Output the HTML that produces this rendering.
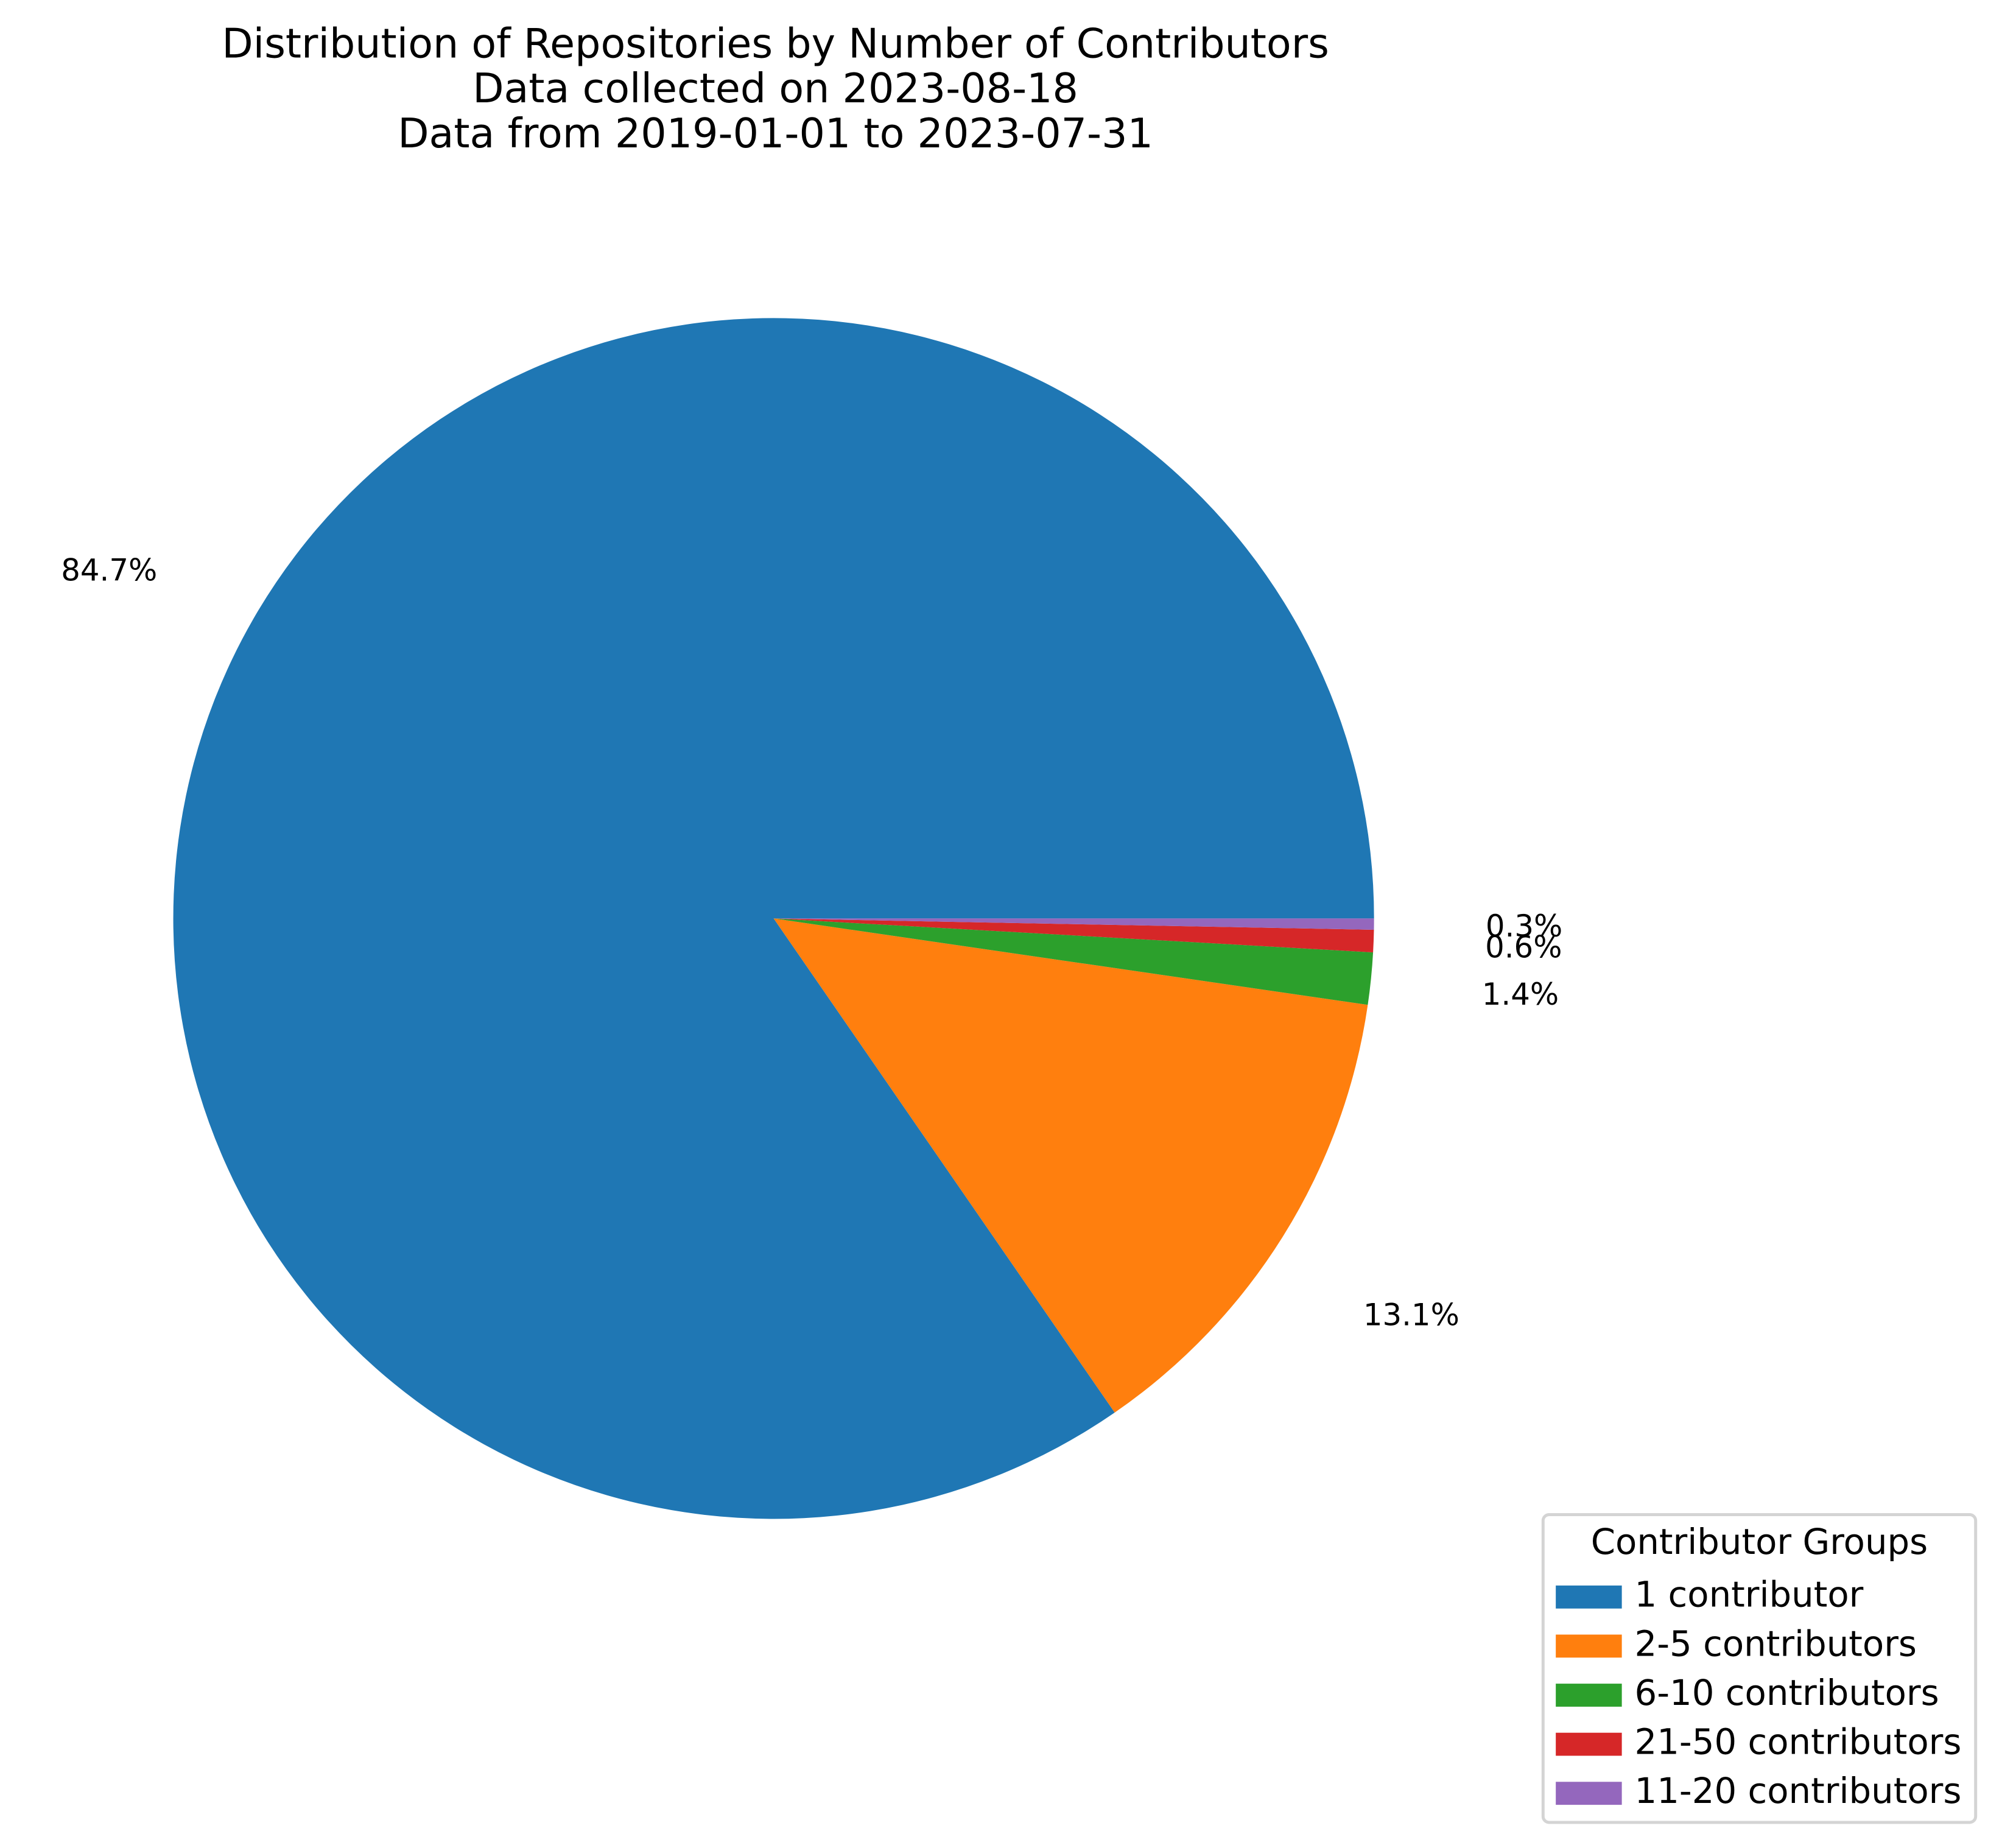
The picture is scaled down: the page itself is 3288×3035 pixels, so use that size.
<!DOCTYPE html>
<html><head><meta charset="utf-8"><style>
html,body{margin:0;padding:0;background:#fff;}
svg{display:block;font-family:"DejaVu Sans","Liberation Sans",sans-serif;}
</style></head><body>
<svg id="chart" width="3288" height="3035" viewBox="0 0 3288 3035" xmlns="http://www.w3.org/2000/svg">
<rect width="3288" height="3035" fill="#fff"/>
<g transform="scale(0.995)">
<g font-size="67" text-anchor="middle" fill="#000">
<text x="1280" y="95">Distribution of Repositories by Number of Contributors</text>
<text x="1280" y="169">Data collected on 2023-08-18</text>
<text x="1280" y="243">Data from 2019-01-01 to 2023-07-31</text>
</g>
<g id="slices"></g>
<g id="labels" font-size="50" text-anchor="middle" fill="#000"></g>
<g>
<rect x="2547" y="2500" width="714" height="508" rx="10" fill="#fff" stroke="#d4d4d4" stroke-width="5"/>
<text x="2904" y="2565" font-size="58" text-anchor="middle">Contributor Groups</text>
<g id="legend-items"></g>
</g>
</g>
</svg>
<script>
const categories = ["1 contributor","2-5 contributors","6-10 contributors","21-50 contributors","11-20 contributors"];
const values = [84.7, 13.1, 1.4, 0.6, 0.3];
const pctLabels = ["84.7%","13.1%","1.4%","0.6%","0.3%"];
const colors = ["#1f77b4","#ff7f0e","#2ca02c","#d62728","#9467bd"];

const NS = "http://www.w3.org/2000/svg";
const cx = 1277, cy = 1516, R = 991, pctDist = 1.25;
const total = values.reduce((a,b)=>a+b,0);
const slices = document.getElementById('slices');
const labels = document.getElementById('labels');
const leg = document.getElementById('legend-items');
function pt(deg, r){ const a = deg*Math.PI/180; return [cx + r*Math.cos(a), cy - r*Math.sin(a)]; }
let start = 0;
values.forEach((v,i)=>{
  const sweep = v/total*360;
  const end = start + sweep;
  const p0 = pt(start,R), p1 = pt(end,R);
  const large = sweep > 180 ? 1 : 0;
  const path = document.createElementNS(NS,'path');
  path.setAttribute('d', `M${cx},${cy} L${p0[0]},${p0[1]} A${R},${R} 0 ${large} 0 ${p1[0]},${p1[1]} Z`);
  path.setAttribute('fill', colors[i]);
  
  
  slices.appendChild(path);
  const mid = start + sweep/2;
  const lp = pt(mid, R*pctDist);
  const t = document.createElementNS(NS,'text');
  t.setAttribute('x', lp[0]);
  t.setAttribute('y', lp[1] + 18);
  t.textContent = pctLabels[i];
  
  
  labels.appendChild(t);
  start = end;
});
categories.forEach((c,i)=>{
  const y = 2630 + i*81;
  const r = document.createElementNS(NS,'rect');
  r.setAttribute('x', 2568); r.setAttribute('y', y-13);
  r.setAttribute('width', 109); r.setAttribute('height', 38);
  r.setAttribute('fill', colors[i]);
  
  
  leg.appendChild(r);
  const t = document.createElementNS(NS,'text');
  t.setAttribute('x', 2698); t.setAttribute('y', y+22);
  t.setAttribute('font-size', 58);
  t.textContent = c;
  
  
  leg.appendChild(t);
});
</script>
</body></html>
